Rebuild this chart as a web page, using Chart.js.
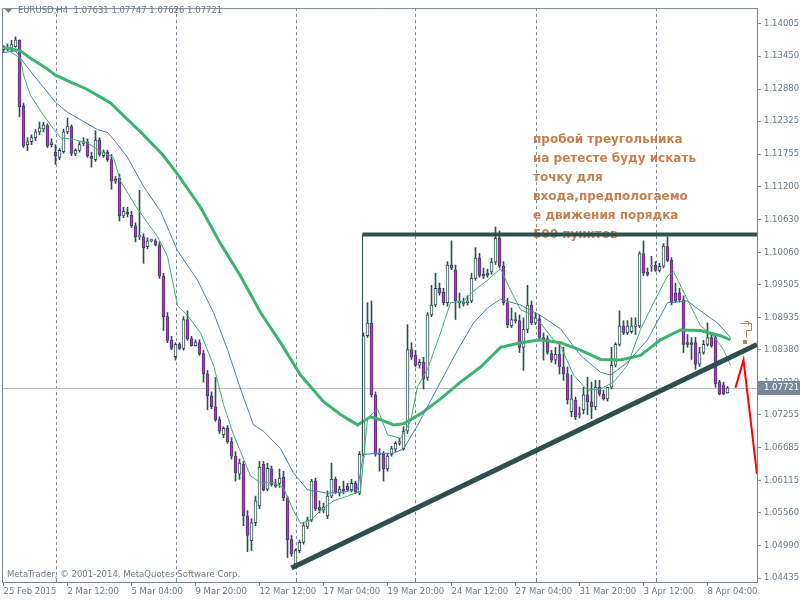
<!DOCTYPE html>
<html>
<head>
<meta charset="utf-8">
<script src="https://cdn.jsdelivr.net/npm/chart.js@4.4.1/dist/chart.umd.min.js"></script>
<style>
  html, body { margin: 0; padding: 0; background: #fff; }
  canvas { display: block; }
</style>
</head>
<body>
<canvas id="chart" width="800" height="600"></canvas>
<script>
// EURUSD H4 candles, one entry per bar (bar 0 = 25 Feb 2015 20:00)
const opens = [
  1.1356, 1.1360, 1.1358, 1.1361, 1.1372, 1.1259, 1.1192, 1.1197, 1.1204, 1.1214,
  1.1219, 1.1225, 1.1192, 1.1179, 1.1170, 1.1180, 1.1214, 1.1223, 1.1177, 1.1182,
  1.1194, 1.1197, 1.1172, 1.1166, 1.1200, 1.1173, 1.1179, 1.1166, 1.1129, 1.1134,
  1.1069, 1.1075, 1.1070, 1.1052, 1.1033, 1.1033, 1.1016, 1.1026, 1.1026, 1.1019,
  1.0965, 1.0895, 1.0854, 1.0826, 1.0847, 1.0840, 1.0890, 1.0857, 1.0845, 1.0850,
  1.0831, 1.0796, 1.0758, 1.0739, 1.0717, 1.0691, 1.0702, 1.0679, 1.0654, 1.0623,
  1.0640, 1.0551, 1.0508, 1.0539, 1.0568, 1.0640, 1.0597, 1.0632, 1.0605, 1.0607,
  1.0618, 1.0582, 1.0510, 1.0468, 1.0491, 1.0505, 1.0532, 1.0544, 1.0611, 1.0566,
  1.0561, 1.0551, 1.0585, 1.0614, 1.0590, 1.0597, 1.0602, 1.0596, 1.0607, 1.0590,
  1.0657, 1.0862, 1.0884, 1.0760, 1.0659, 1.0657, 1.0632, 1.0657, 1.0666, 1.0676,
  1.0667, 1.0697, 1.0838, 1.0828, 1.0811, 1.0816, 1.0790, 1.0898, 1.0915, 1.0944,
  1.0937, 1.0919, 1.0984, 1.0976, 1.0919, 1.0917, 1.0919, 1.0922, 1.0961, 1.0996,
  1.0968, 1.0970, 1.0972, 1.0989, 1.1030, 1.0982, 1.0919, 1.0879, 1.0890, 1.0888,
  1.0842, 1.0873, 1.0915, 1.0884, 1.0891, 1.0859, 1.0857, 1.0831, 1.0820, 1.0830,
  1.0808, 1.0796, 1.0731, 1.0751, 1.0726, 1.0734, 1.0760, 1.0748, 1.0739, 1.0773,
  1.0761, 1.0753, 1.0773, 1.0811, 1.0847, 1.0879, 1.0867, 1.0869, 1.0878, 1.0879,
  1.1004, 1.0972, 1.0982, 1.0984, 1.0975, 1.0982, 1.1016, 1.0992, 1.0936, 1.0936,
  1.0924, 1.0850, 1.0850, 1.0850, 1.0813, 1.0833, 1.0847, 1.0859, 1.0859, 1.0782,
  1.0777, 1.07631
];
const highs = [
  1.1363, 1.1366, 1.1372, 1.1378, 1.1373, 1.1264, 1.1204, 1.1209, 1.1218, 1.1231,
  1.1231, 1.1228, 1.1202, 1.1192, 1.1185, 1.1219, 1.1238, 1.1226, 1.1185, 1.1197,
  1.1204, 1.1202, 1.1179, 1.1216, 1.1204, 1.1183, 1.1182, 1.1175, 1.1137, 1.1141,
  1.1084, 1.1084, 1.1077, 1.1057, 1.1113, 1.1038, 1.1031, 1.1029, 1.1029, 1.1024,
  1.0970, 1.0902, 1.0861, 1.0850, 1.0850, 1.0895, 1.0905, 1.0861, 1.0855, 1.0855,
  1.0837, 1.0802, 1.0765, 1.0790, 1.0722, 1.0705, 1.0707, 1.0686, 1.0662, 1.0649,
  1.0645, 1.0560, 1.0546, 1.0585, 1.0645, 1.0645, 1.0642, 1.0637, 1.0614, 1.0632,
  1.0628, 1.0585, 1.0517, 1.0494, 1.0509, 1.0539, 1.0549, 1.0614, 1.0616, 1.0577,
  1.0573, 1.0594, 1.0642, 1.0618, 1.0602, 1.0611, 1.0607, 1.0614, 1.0611, 1.0662,
  1.0867, 1.0919, 1.0922, 1.0765, 1.0667, 1.0662, 1.0659, 1.0671, 1.0679, 1.0685,
  1.0705, 1.0881, 1.0850, 1.0837, 1.0821, 1.0825, 1.0902, 1.0949, 1.0970, 1.0953,
  1.0944, 1.0990, 1.1026, 1.0984, 1.0936, 1.0927, 1.0931, 1.0970, 1.1014, 1.1004,
  1.0979, 1.0977, 1.0996, 1.1050, 1.1043, 1.0990, 1.0927, 1.0910, 1.0902, 1.0898,
  1.0893, 1.0949, 1.0922, 1.0902, 1.0898, 1.0867, 1.0862, 1.0837, 1.0842, 1.0850,
  1.0842, 1.0808, 1.0794, 1.0756, 1.0739, 1.0773, 1.0790, 1.0782, 1.0785, 1.0785,
  1.0768, 1.0773, 1.0842, 1.0850, 1.0905, 1.0888, 1.0888, 1.0893, 1.0893, 1.1007,
  1.1026, 1.0979, 1.0999, 1.0990, 1.0987, 1.1021, 1.1033, 1.0997, 1.0953, 1.0944,
  1.0931, 1.0864, 1.0859, 1.0859, 1.0842, 1.0854, 1.0884, 1.0867, 1.0864, 1.0785,
  1.0782, 1.07747
];
const lows = [
  1.1351, 1.1354, 1.1354, 1.1360, 1.1240, 1.1187, 1.1182, 1.1192, 1.1199, 1.1209,
  1.1214, 1.1187, 1.1188, 1.1158, 1.1166, 1.1177, 1.1211, 1.1173, 1.1173, 1.1179,
  1.1190, 1.1170, 1.1153, 1.1163, 1.1172, 1.1170, 1.1163, 1.1115, 1.1125, 1.1060,
  1.1066, 1.1067, 1.1049, 1.1024, 1.1028, 1.0987, 1.1012, 1.1024, 1.1017, 1.0961,
  1.0871, 1.0850, 1.0838, 1.0820, 1.0838, 1.0837, 1.0854, 1.0844, 1.0844, 1.0828,
  1.0782, 1.0734, 1.0736, 1.0714, 1.0693, 1.0686, 1.0676, 1.0649, 1.0611, 1.0614,
  1.0534, 1.0489, 1.0491, 1.0534, 1.0563, 1.0594, 1.0594, 1.0602, 1.0600, 1.0600,
  1.0577, 1.0479, 1.0481, 1.0464, 1.0487, 1.0502, 1.0529, 1.0541, 1.0560, 1.0556,
  1.0556, 1.0546, 1.0582, 1.0589, 1.0585, 1.0589, 1.0594, 1.0592, 1.0589, 1.0587,
  1.0652, 1.0859, 1.0756, 1.0654, 1.0628, 1.0611, 1.0628, 1.0654, 1.0662, 1.0673,
  1.0664, 1.0693, 1.0821, 1.0808, 1.0806, 1.0770, 1.0785, 1.0895, 1.0912, 1.0932,
  1.0915, 1.0913, 1.0976, 1.0890, 1.0910, 1.0913, 1.0915, 1.0919, 1.0958, 1.0963,
  1.0961, 1.0963, 1.0968, 1.0985, 1.0979, 1.0915, 1.0876, 1.0876, 1.0884, 1.0833,
  1.0802, 1.0867, 1.0881, 1.0881, 1.0855, 1.0820, 1.0830, 1.0816, 1.0813, 1.0796,
  1.0785, 1.0744, 1.0722, 1.0717, 1.0720, 1.0727, 1.0726, 1.0719, 1.0734, 1.0758,
  1.0751, 1.0749, 1.0770, 1.0808, 1.0844, 1.0864, 1.0864, 1.0866, 1.0864, 1.0876,
  1.0966, 1.0965, 1.0973, 1.0973, 1.0972, 1.0979, 1.0990, 1.0915, 1.0919, 1.0920,
  1.0833, 1.0842, 1.0821, 1.0804, 1.0809, 1.0830, 1.0844, 1.0842, 1.0773, 1.0760,
  1.0760, 1.07626
];
const closes = [
  1.1361, 1.1358, 1.1365, 1.1373, 1.1257, 1.1190, 1.1197, 1.1204, 1.1214, 1.1221,
  1.1226, 1.1190, 1.1195, 1.1172, 1.1182, 1.1214, 1.1223, 1.1177, 1.1182, 1.1192,
  1.1197, 1.1173, 1.1168, 1.1200, 1.1175, 1.1179, 1.1166, 1.1129, 1.1132, 1.1069,
  1.1077, 1.1072, 1.1052, 1.1033, 1.1035, 1.1014, 1.1026, 1.1028, 1.1019, 1.0965,
  1.0895, 1.0854, 1.0840, 1.0847, 1.0840, 1.0890, 1.0857, 1.0845, 1.0850, 1.0831,
  1.0796, 1.0758, 1.0739, 1.0717, 1.0697, 1.0702, 1.0679, 1.0654, 1.0625, 1.0642,
  1.0551, 1.0517, 1.0539, 1.0577, 1.0635, 1.0596, 1.0633, 1.0605, 1.0602, 1.0616,
  1.0582, 1.0510, 1.0485, 1.0491, 1.0505, 1.0534, 1.0544, 1.0611, 1.0563, 1.0561,
  1.0566, 1.0585, 1.0614, 1.0592, 1.0597, 1.0594, 1.0596, 1.0607, 1.0592, 1.0657,
  1.0862, 1.0884, 1.0760, 1.0657, 1.0657, 1.0632, 1.0654, 1.0667, 1.0676, 1.0679,
  1.0697, 1.0838, 1.0825, 1.0811, 1.0816, 1.0787, 1.0898, 1.0915, 1.0944, 1.0936,
  1.0919, 1.0984, 1.0979, 1.0922, 1.0922, 1.0920, 1.0922, 1.0961, 1.0996, 1.0966,
  1.0965, 1.0966, 1.0989, 1.1030, 1.0982, 1.0919, 1.0881, 1.0890, 1.0888, 1.0842,
  1.0873, 1.0915, 1.0884, 1.0893, 1.0859, 1.0855, 1.0833, 1.0820, 1.0830, 1.0808,
  1.0796, 1.0751, 1.0753, 1.0722, 1.0727, 1.0760, 1.0748, 1.0739, 1.0773, 1.0761,
  1.0753, 1.0773, 1.0811, 1.0847, 1.0879, 1.0867, 1.0879, 1.0879, 1.0881, 1.1004,
  1.0970, 1.0968, 1.0984, 1.0975, 1.0982, 1.1017, 1.0992, 1.0919, 1.0922, 1.0924,
  1.0847, 1.0847, 1.0847, 1.0813, 1.0833, 1.0847, 1.0859, 1.0845, 1.0779, 1.0761,
  1.0761, 1.07721
];

const slowMaBars = [0, 4.25, 6.75, 10.5, 13, 16.75, 20.5, 24.25, 26.75, 29.25, 34.25, 39.75, 43.5, 49.25, 54.25,
  59.25, 64.25, 69.25, 74.25, 80, 84.25, 88.5, 91.75, 94.25, 97.5, 100, 104.25, 109.25, 114.25, 119.25, 124.25,
  129.25, 134.25, 139.25, 144.25, 149.25, 154.25, 159.25, 164.25, 169.25, 174.25, 179.25, 181.75];
const slowMaValues = [1.1360, 1.1354, 1.1341, 1.1325, 1.1312, 1.1300, 1.1289, 1.1274, 1.1264, 1.1247, 1.1214, 1.1175,
  1.1141, 1.1084, 1.1021, 1.0965, 1.0902, 1.0850, 1.0794, 1.0748, 1.0726, 1.0708, 1.0722, 1.0717, 1.0708, 1.0710,
  1.0727, 1.0753, 1.0782, 1.0808, 1.0842, 1.0850, 1.0855, 1.0850, 1.0837, 1.0821, 1.0820, 1.0828, 1.0855, 1.0872,
  1.0871, 1.0862, 1.0855];

const midMaBars = [0, 3, 4.25, 7.5, 10, 13, 16, 19.25, 23.5, 26, 28, 31, 35, 39.25, 43.5, 48.5, 52.5, 56, 59.25,
  62.5, 65, 69.25, 72.5, 76, 81, 85, 88.5, 90, 93.5, 97.5, 100, 103.5, 109.25, 113.5, 117.5, 121, 124.25, 129.25,
  134.25, 139.25, 144.25, 149.25, 151.75, 156, 161, 166, 171, 174.25, 178.5, 181.75];
const midMaValues = [1.1351, 1.1354, 1.1341, 1.1312, 1.1291, 1.1265, 1.1248, 1.1235, 1.1218, 1.1213, 1.1197, 1.1170,
  1.1120, 1.1077, 1.1009, 1.0958, 1.0902, 1.0838, 1.0770, 1.0708, 1.0697, 1.0667, 1.0625, 1.0596, 1.0590, 1.0592,
  1.0597, 1.0657, 1.0659, 1.0659, 1.0667, 1.0707, 1.0782, 1.0837, 1.0884, 1.0910, 1.0925, 1.0915, 1.0897, 1.0874,
  1.0828, 1.0799, 1.0794, 1.0816, 1.0855, 1.0919, 1.0922, 1.0905, 1.0884, 1.0859];

const fastMaBars = [0, 4.25, 5, 6.75, 10, 11.75, 14.25, 17.5, 21, 24.25, 27.5, 29.25, 33.5, 38.5, 41, 43.5, 46,
  49.25, 52.5, 55, 57.5, 59.25, 61.75, 64.25, 67.5, 70, 72.5, 74.25, 76.75, 79.25, 82.5, 86, 89.25, 91, 93.5, 96,
  99.25, 101.75, 103.5, 106, 109.25, 111.75, 115, 117.5, 121, 124.25, 126.75, 129.25, 131.75, 134.25, 137.5,
  139.25, 142.5, 146, 149.25, 152.5, 156, 159.25, 162.5, 166, 167.5, 171, 174.25, 177.5, 180, 181.75];
const fastMaValues = [1.1360, 1.1341, 1.1312, 1.1277, 1.1243, 1.1226, 1.1204, 1.1201, 1.1195, 1.1180, 1.1170, 1.1129,
  1.1081, 1.1033, 1.0999, 1.0914, 1.0897, 1.0867, 1.0811, 1.0743, 1.0691, 1.0662, 1.0620, 1.0608, 1.0608, 1.0599,
  1.0560, 1.0538, 1.0543, 1.0560, 1.0577, 1.0585, 1.0594, 1.0719, 1.0736, 1.0691, 1.0685, 1.0714, 1.0774, 1.0804,
  1.0867, 1.0919, 1.0922, 1.0939, 1.0958, 1.0978, 1.0941, 1.0907, 1.0899, 1.0884, 1.0855, 1.0845, 1.0794, 1.0768,
  1.0770, 1.0782, 1.0811, 1.0873, 1.0919, 1.0965, 1.0973, 1.0924, 1.0879, 1.0862, 1.0838, 1.0811];

// drawn objects: triangle and forecast
const topLineBars = [89.75, 188.375];
const topLinePrices = [1.1037, 1.1037];
const sideLineBars = [89.75, 89.75];
const sideLinePrices = [1.1037, 1.0655];
const supportBars = [72, 188.375];
const supportPrices = [1.0461, 1.0847];
const forecastBars = [183, 185, 188.375];
const forecastPrices = [1.0772, 1.0820, 1.0623];

// axes
const xTickBars = [0, 16, 32, 48, 64, 80, 96, 112, 128, 144, 160, 176];
const xTickLabels = ['25 Feb 2015', '2 Mar 12:00', '5 Mar 04:00', '9 Mar 20:00', '12 Mar 12:00', '17 Mar 04:00',
  '19 Mar 20:00', '24 Mar 12:00', '27 Mar 04:00', '31 Mar 20:00', '3 Apr 12:00', '8 Apr 04:00'];
const gridBars = [13, 43, 73, 103, 133, 163];
const yTickValues = [1.14005, 1.13450, 1.12880, 1.12325, 1.11755, 1.11200, 1.10630, 1.10060, 1.09505, 1.08935,
  1.08380, 1.07810, 1.07255, 1.06685, 1.06115, 1.05560, 1.04990, 1.04435];
const lastPrice = 1.07721;

const noteLines = ['пробой треугольника', 'на ретесте буду искать', 'точку для', 'входа,предпологаемо',
  'е движения порядка', '500 пунктов'];

const axisColor = '#778899';
const textColor = '#6d7b89';
const candleLine = '#2f4f4f';
const tickFont = { family: 'DejaVu Sans', size: 8.5 };

const bars = opens.map((_, i) => i);
const toPoints = (xs, ys) => xs.map((x, i) => ({ x: x, y: ys[i] }));

const decor = {
  id: 'decor',
  beforeDraw(chart) {
    const c = chart.ctx;
    c.save();
    c.fillStyle = '#fff';
    c.fillRect(0, 0, chart.width, chart.height);
    c.restore();
  },
  beforeDatasetsDraw(chart) {
    const c = chart.ctx;
    const a = chart.chartArea;
    const x = chart.scales.x;
    const y = chart.scales.y;
    c.save();
    // dashed vertical grid
    c.strokeStyle = axisColor;
    c.lineWidth = 1;
    c.setLineDash([3, 3]);
    gridBars.forEach(b => {
      const px = Math.round(x.getPixelForValue(b)) + 0.5;
      c.beginPath();
      c.moveTo(px, a.top);
      c.lineTo(px, a.bottom);
      c.stroke();
    });
    c.setLineDash([]);
    // small marks on the time axis at grid lines
    gridBars.forEach(b => {
      const px = Math.round(x.getPixelForValue(b)) + 0.5;
      c.beginPath();
      c.moveTo(px, a.bottom - 4);
      c.lineTo(px, a.bottom);
      c.stroke();
    });
    // bid line
    const py = Math.round(y.getPixelForValue(lastPrice)) + 0.5;
    c.strokeStyle = '#c0c0c0';
    c.beginPath();
    c.moveTo(a.left, py);
    c.lineTo(a.right, py);
    c.stroke();

    // note text sits under the drawn lines
    c.fillStyle = '#c6804f';
    c.font = 'bold 12px "DejaVu Sans"';
    c.textBaseline = 'middle';
    c.textAlign = 'left';
    noteLines.forEach((t, i) => c.fillText(t, 533, 140 + i * 19));
    c.restore();
  },
  afterDraw(chart) {
    const c = chart.ctx;
    const a = chart.chartArea;
    const y = chart.scales.y;
    c.save();
    // frame top and left
    c.strokeStyle = axisColor;
    c.lineWidth = 1;
    c.beginPath();
    c.moveTo(a.left + 0.5, a.bottom);
    c.lineTo(a.left + 0.5, a.top + 0.5);
    c.lineTo(a.right, a.top + 0.5);
    c.stroke();

    // header
    c.fillStyle = '#7a7a7a';
    c.beginPath();
    c.moveTo(5, 9);
    c.lineTo(12, 9);
    c.lineTo(8.5, 13);
    c.closePath();
    c.fill();
    c.fillStyle = textColor;
    c.font = '8.5px "DejaVu Sans"';
    c.textBaseline = 'middle';
    c.textAlign = 'left';
    c.fillText('EURUSD,H4  1.07631 1.07747 1.07626 1.07721', 18, 11);

    // copyright
    c.font = '8.5px "DejaVu Sans"';
    c.fillText('MetaTrader, © 2001-2014, MetaQuotes Software Corp.', 7, 575);

    // hand drawn marker near the end
    c.strokeStyle = '#c08050';
    c.fillStyle = '#c08050';
    c.lineWidth = 1;
    c.beginPath();
    c.moveTo(740.5, 323.5);
    c.lineTo(751.5, 323.5);
    c.lineTo(751.5, 330.5);
    c.lineTo(746.5, 330.5);
    c.lineTo(746.5, 337.5);
    c.moveTo(744.5, 321.5);
    c.lineTo(748.5, 321.5);
    c.lineTo(748.5, 325.5);
    c.stroke();
    c.fillRect(743, 340, 4, 4);

    // last price box
    const py = Math.round(y.getPixelForValue(lastPrice));
    c.fillStyle = axisColor;
    c.fillRect(a.right + 1, py - 7, chart.width - a.right - 1, 14);
    c.fillStyle = '#fff';
    c.font = '8.5px "DejaVu Sans"';
    c.fillText(lastPrice.toFixed(5), a.right + 7, py);
    c.restore();
  }
};

const ctx = document.getElementById('chart').getContext('2d');
new Chart(ctx, {
  type: 'bar',
  data: {
    datasets: [
      {
        type: 'line',
        data: toPoints(forecastBars, forecastPrices),
        borderColor: '#ff0000',
        borderWidth: 2,
        pointRadius: 0,
        order: -1
      },
      {
        type: 'line',
        data: toPoints(supportBars, supportPrices),
        borderColor: candleLine,
        borderWidth: 5,
        pointRadius: 0,
        order: 0
      },
      {
        type: 'line',
        data: toPoints(topLineBars, topLinePrices),
        borderColor: candleLine,
        borderWidth: 4,
        pointRadius: 0,
        order: 0
      },
      {
        type: 'line',
        data: toPoints(sideLineBars, sideLinePrices),
        borderColor: candleLine,
        borderWidth: 1,
        pointRadius: 0,
        order: 0
      },
      {
        type: 'line',
        data: toPoints(fastMaBars, fastMaValues),
        borderColor: '#3cb371',
        borderWidth: 1,
        pointRadius: 0,
        order: 1
      },
      {
        type: 'line',
        data: toPoints(midMaBars, midMaValues),
        borderColor: '#4682b4',
        borderWidth: 1,
        pointRadius: 0,
        order: 2
      },
      {
        type: 'line',
        data: toPoints(slowMaBars, slowMaValues),
        borderColor: '#3cb371',
        borderWidth: 3,
        pointRadius: 0,
        order: 3
      },
      {
        // candle bodies
        data: bars.map(i => ({ x: i, y: [opens[i], closes[i]] })),
        backgroundColor: bars.map(i => closes[i] > opens[i] ? '#ffffff' : '#ff00ff'),
        borderColor: candleLine,
        borderWidth: 1,
        borderSkipped: false,
        barThickness: 3,
        minBarLength: 1,
        grouped: false,
        order: 4
      },
      {
        // wicks
        data: bars.map(i => ({ x: i, y: [lows[i], highs[i]] })),
        backgroundColor: candleLine,
        borderWidth: 0,
        barThickness: 1,
        grouped: false,
        order: 5
      }
    ]
  },
  options: {
    responsive: false,
    animation: false,
    devicePixelRatio: 1,
    layout: { padding: { left: 2, top: 2, right: 0, bottom: 0 } },
    plugins: { legend: { display: false }, tooltip: { enabled: false } },
    scales: {
      x: {
        type: 'linear',
        min: -0.375,
        max: 188.375,
        offset: false,
        grid: { offset: false, drawOnChartArea: false, tickLength: 4, color: axisColor },
        border: { color: axisColor },
        ticks: {
          autoSkip: false,
          maxRotation: 0,
          align: 'start',
          padding: 1,
          color: textColor,
          font: tickFont,
          callback: (v) => xTickLabels[xTickBars.indexOf(v)]
        },
        afterBuildTicks: (s) => { s.ticks = xTickBars.map(v => ({ value: v })); },
        afterFit: (s) => { s.height = 18; }
      },
      y: {
        type: 'linear',
        position: 'right',
        min: 1.04367,
        max: 1.14278,
        grid: { drawOnChartArea: false, tickLength: 4, color: axisColor },
        border: { color: axisColor },
        ticks: {
          autoSkip: false,
          padding: 3,
          color: textColor,
          font: tickFont,
          callback: (v) => v.toFixed(5)
        },
        afterBuildTicks: (s) => { s.ticks = yTickValues.map(v => ({ value: v })); },
        afterFit: (s) => { s.width = 43; }
      }
    }
  },
  plugins: [decor]
});
</script>
</body>
</html>
